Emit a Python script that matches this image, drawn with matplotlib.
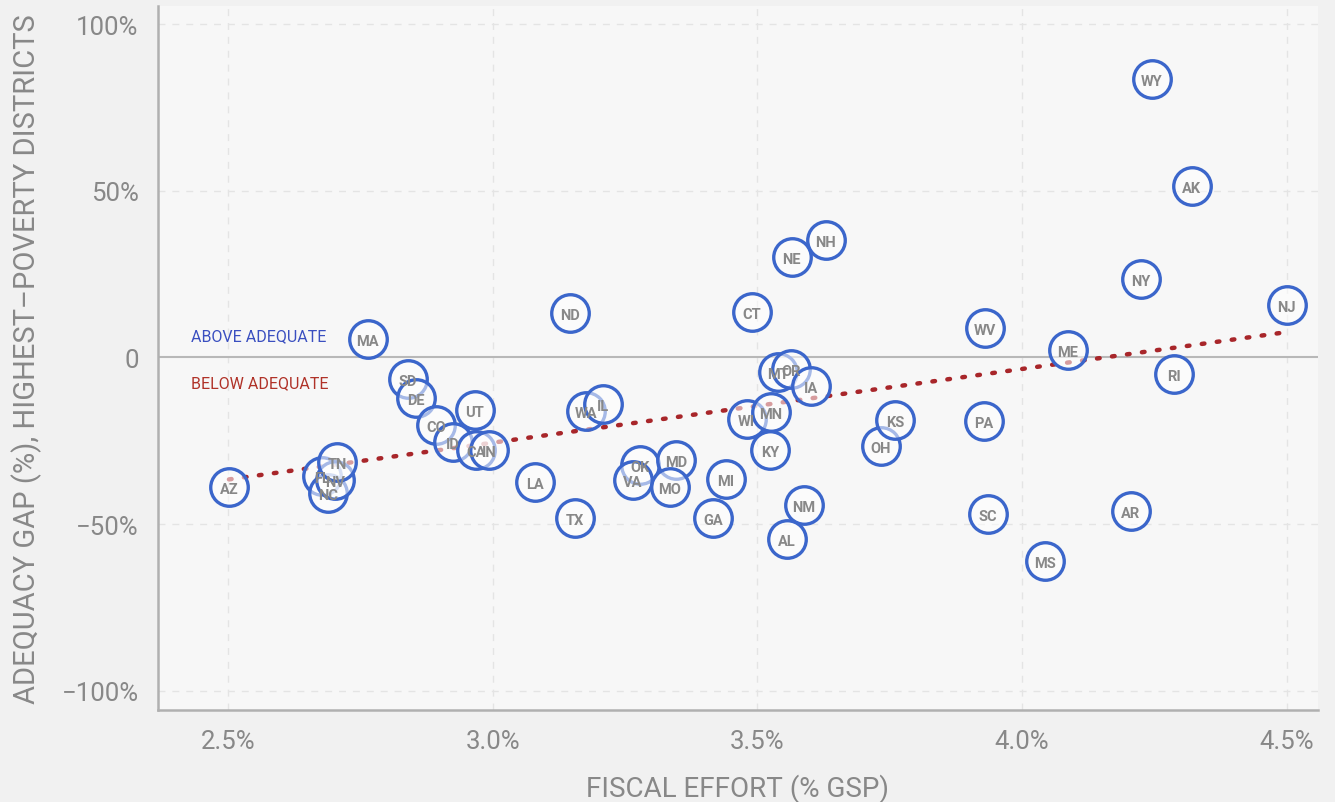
import matplotlib
matplotlib.use("Agg")
import matplotlib.pyplot as plt
import numpy as np

plt.rcParams['font.family'] = ['Roboto', 'DejaVu Sans']

states = ["AZ", "MA", "SD", "DE", "CO", "ID", "UT", "CA", "IN", "FL", "NC", "NV", "TN",
          "ND", "LA", "TX", "WA", "IL", "OK", "VA", "MD", "MO", "MI", "GA", "CT", "NE",
          "NH", "MT", "OR", "IA", "WI", "MN", "KY", "NM", "AL", "OH", "KS", "WV", "PA",
          "SC", "MS", "ME", "AR", "NY", "RI", "WY", "AK", "NJ"]
effort = [2.502, 2.764, 2.840, 2.855, 2.893, 2.925, 2.966, 2.968, 2.993, 2.678, 2.689, 2.702, 2.706,
          3.146, 3.080, 3.155, 3.176, 3.208, 3.278, 3.265, 3.346, 3.335, 3.440, 3.416, 3.490, 3.565,
          3.629, 3.539, 3.563, 3.601, 3.480, 3.525, 3.524, 3.588, 3.556, 3.733, 3.760, 3.930, 3.928,
          3.935, 4.043, 4.086, 4.205, 4.224, 4.287, 4.245, 4.321, 4.500]
gap = [-38.7, 5.4, -6.3, -12.0, -20.1, -25.2, -15.6, -27.6, -27.6, -35.4, -40.5, -36.6, -31.2,
       13.2, -37.2, -48.0, -15.9, -13.8, -32.1, -36.6, -30.6, -38.7, -36.3, -48.0, 13.5, 30.0,
       35.1, -4.2, -3.3, -8.4, -18.3, -16.2, -27.6, -44.1, -54.3, -26.4, -18.6, 8.7, -18.9,
       -46.8, -60.9, 2.1, -45.9, 23.4, -4.8, 83.4, 51.3, 15.6]

x_ticks = [2.5, 3.0, 3.5, 4.0, 4.5]
x_tick_labels = ["2.5%", "3.0%", "3.5%", "4.0%", "4.5%"]
y_ticks = [-100, -50, 0, 50, 100]
y_tick_labels = ["\u2212100%", "\u221250%", "0", "50%", "100%"]

fig = plt.figure(figsize=(13.35, 8.03), dpi=100, facecolor="#f1f1f1")
ax = fig.add_axes([158/1335, 1 - 711/803, (1318-158)/1335, (711-7)/803])
ax.set_facecolor("#f7f7f7")
ax.set_xlim(2.368, 4.559)
ax.set_ylim(-105.7, 105.4)

for t in x_ticks:
    ax.axvline(t, color="#e4e4e4", lw=1, ls=(0, (5, 5)), zorder=0)
for t in [-100, -50, 50, 100]:
    ax.axhline(t, color="#e4e4e4", lw=1, ls=(0, (5, 5)), zorder=0)
ax.axhline(0, color="#b8b8b8", lw=1.5, zorder=1)

# trend line
ex = np.array(effort)
gy = np.array(gap)
m, b = np.polyfit(ex, gy, 1)
tx = np.array([ex.min(), ex.max()])
ax.plot(tx, m * tx + b, color="#a8262a", lw=3.2, ls=(0, (0.6, 2.8)),
        dash_capstyle="round", zorder=2)

ax.scatter(effort, gap, s=730, facecolor=(1, 1, 1, 0.55), edgecolor="#3b66cb",
           linewidth=2.4, zorder=3)
for s, xv, yv in zip(states, effort, gap):
    ax.text(xv, yv - 0.6, s, ha="center", va="center", fontsize=10.5, fontweight="bold",
            color="#888888", zorder=4)

ax.text(2.43, 6.5, "ABOVE ADEQUATE", color="#3a4fc0", fontsize=11.5, ha="left", va="center")
ax.text(2.43, -7.5, "BELOW ADEQUATE", color="#b03228", fontsize=11.5, ha="left", va="center")

ax.set_xticks(x_ticks)
ax.set_xticklabels(x_tick_labels)
ax.set_yticks(y_ticks)
ax.set_yticklabels(y_tick_labels)
ax.tick_params(axis="both", length=0, labelsize=18.5, colors="#888888")
ax.tick_params(axis="x", pad=14)
ax.tick_params(axis="y", pad=14)
for sp in ["top", "right"]:
    ax.spines[sp].set_visible(False)
for sp in ["left", "bottom"]:
    ax.spines[sp].set_color("#b0b0b0")
    ax.spines[sp].set_linewidth(1.8)

ax.set_xlabel("FISCAL EFFORT (% GSP)", fontsize=20, color="#888888", labelpad=14)
ax.set_ylabel("ADEQUACY GAP (%), HIGHEST\u2013POVERTY DISTRICTS", fontsize=21,
              color="#888888", labelpad=14)

fig.savefig("out.png", dpi=100, facecolor=fig.get_facecolor())
